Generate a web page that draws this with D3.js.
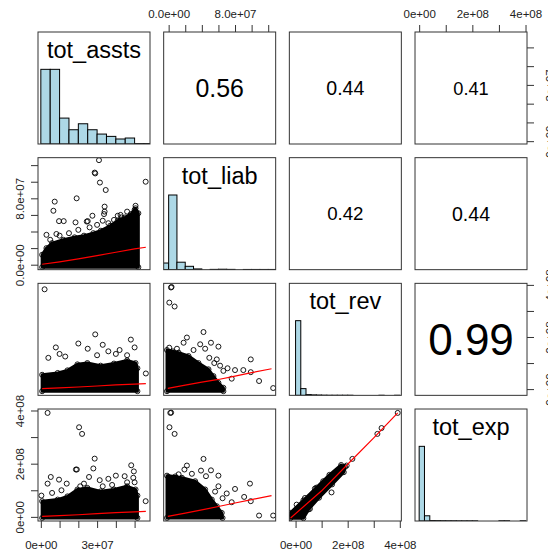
<!DOCTYPE html>
<html><head><meta charset="utf-8">
<script src="https://cdn.jsdelivr.net/npm/d3@7"></script>
<style>
html,body{margin:0;padding:0;background:#fff;}
svg{display:block;font-family:"Liberation Sans",Arial,Helvetica,sans-serif;}
</style></head>
<body>
<svg id="chart" width="548" height="552"></svg>
<script>
// ---------------- DATA ----------------
const variables = ["tot_assts", "tot_liab", "tot_rev", "tot_exp"];
const varMin = [0.07e7, -0.1e7, -0.08e8, 0];
const varMax = [5.6e7, 1.24e8, 3.9e8, 3.9e8];

// correlations (upper panels)
const corRow = [0, 0, 0, 1, 1, 2];
const corCol = [1, 2, 3, 2, 3, 3];
const corValue = [0.56, 0.44, 0.41, 0.42, 0.44, 0.99];

// histograms (density scaled to max = 1)
const histAsstsBreaks = [0, 0.5e7, 1e7, 1.5e7, 2e7, 2.5e7, 3e7, 3.5e7, 4e7, 4.5e7, 5e7, 5.5e7, 6e7];
const histAsstsDensity = [1, 1, 0.347, 0.191, 0.271, 0.191, 0.133, 0.102, 0.067, 0.08, 0.005, 0.005];
const histLiabBreaks = [-1e7, 0, 1e7, 2e7, 3e7, 4e7, 5e7, 6e7, 7e7, 8e7, 9e7, 10e7, 11e7, 12e7, 13e7];
const histLiabDensity = [0.089, 1, 0.10, 0.045, 0.01, 0, 0.004, 0.006, 0.004, 0, 0.003, 0.003, 0.003, 0.003];
const histRevBreaks = [0, 2e7, 4e7, 6e7, 8e7, 10e7, 12e7, 14e7, 16e7, 18e7, 20e7, 22e7, 24e7, 26e7, 28e7, 30e7, 32e7, 34e7, 36e7, 38e7, 40e7];
const histRevDensity = [1, 0.09, 0.01, 0.006, 0.004, 0.002, 0.001, 0.001, 0.001, 0.001, 0.001, 0, 0, 0, 0, 0, 0.001, 0, 0, 0.001];
const histExpBreaks = [0, 2e7, 4e7, 6e7, 8e7, 10e7, 12e7, 14e7, 16e7, 18e7, 20e7, 22e7, 24e7, 26e7, 28e7, 30e7, 32e7, 34e7, 36e7, 38e7, 40e7];
const histExpDensity = [1, 0.07, 0.006, 0.005, 0.004, 0.003, 0.003, 0.002, 0.002, 0.002, 0.002, 0, 0, 0, 0, 0.003, 0.003, 0, 0, 0.003];

// scatter panels: points in data units
const s21Points = [[3.1e7,12.6e7],[2.87e7,11.1e7],[2.9e7,11.0e7],[3.15e7,9.9e7],[3.46e7,9.0e7],[5.59e7,10.0e7],[0.74e7,7.6e7],[1.91e7,8.0e7],[0.67e7,6.5e7],[3.4e7,7.0e7],[0.97e7,5.25e7],[1.22e7,5.25e7],[1.85e7,5.1e7],[2.45e7,5.2e7],[2.5e7,5.25e7],[2.75e7,5.9e7],[3.37e7,6.1e7],[3.4e7,6.4e7],[0.3e7,3.6e7],[0.83e7,3.7e7],[4.1e7,5.9e7],[4.25e7,6.0e7],[5.0e7,6.6e7],[5.05e7,7.1e7],[5.0e7,6.0e7],[3.3e7,5.3e7],[3.6e7,5.0e7],[3.9e7,5.4e7],[4.6e7,6.4e7],[2.0e7,4.2e7],[1.5e7,3.8e7],[1.0e7,3.5e7],[0.5e7,3.0e7],[2.6e7,4.5e7],[3.0e7,4.8e7],[4.3e7,5.7e7]];
const s21Cloud = [[0.07e7,-0.3e7],[0.07e7,1.2e7],[0.3e7,2.0e7],[0.6e7,2.6e7],[1.2e7,3.0e7],[1.8e7,3.3e7],[2.3e7,3.5e7],[2.8e7,3.8e7],[3.2e7,4.1e7],[3.7e7,4.7e7],[4.1e7,5.3e7],[4.5e7,5.7e7],[4.8e7,6.1e7],[5.05e7,6.8e7],[5.2e7,6.2e7],[5.2e7,-0.3e7]];
const s21Smooth = [[0.07e7,0.05e7],[1e7,0.35e7],[2e7,0.7e7],[3e7,1.1e7],[4e7,1.5e7],[5e7,1.9e7],[5.6e7,2.1e7]];

const s31Points = [[0.2e7,3.83e8],[0.8e7,1.6e8],[1.3e7,1.25e8],[2.0e7,1.75e8],[2.5e7,1.55e8],[3.3e7,1.7e8],[3.6e7,1.45e8],[4.2e7,1.5e8],[4.8e7,1.9e8],[5.0e7,1.6e8],[5.6e7,0.6e8],[2.9e7,2.1e8],[0.4e7,1.2e8],[1.0e7,1.35e8],[3.0e7,1.3e8],[4.0e7,1.35e8],[4.6e7,1.3e8]];
const s31Cloud = [[0.07e7,-0.08e8],[0.07e7,0.55e8],[0.9e7,0.62e8],[1.42e7,0.72e8],[1.95e7,0.95e8],[2.48e7,1.0e8],[3.19e7,0.9e8],[3.9e7,0.98e8],[4.6e7,1.1e8],[5.05e7,1.0e8],[5.15e7,0.8e8],[5.15e7,-0.08e8]];
const s31Smooth = [[0.07e7,0.02e8],[1e7,0.05e8],[2e7,0.08e8],[3e7,0.12e8],[4e7,0.16e8],[5e7,0.19e8],[5.6e7,0.21e8]];

const s32Points = [[0.28e7,3.9e8],[0.35e7,3.92e8],[0.08e7,3.32e8],[0.72e7,3.17e8],[4.2e7,2.19e8],[2.2e7,1.98e8],[1.8e7,1.78e8],[3.8e7,1.72e8],[5.1e7,1.78e8],[4.4e7,1.55e8],[6.0e7,1.63e8],[0.07e7,1.59e8],[9.9e7,1.14e8],[7.1e7,0.8e8],[8.0e7,0.73e8],[9.0e7,0.73e8],[9.9e7,0.65e8],[7.6e7,0.4e8],[10.9e7,0.31e8],[12.6e7,0.04e8],[5.8e7,1.14e8],[6.2e7,0.9e8],[6.6e7,0.7e8],[3.0e7,1.5e8],[1.0e7,1.55e8],[4.9e7,1.2e8],[5.5e7,1.0e8]];
const s32Cloud = [[-0.2e7,1.5e8],[0.5e7,1.45e8],[1.2e7,1.4e8],[2.4e7,1.27e8],[3.6e7,1.0e8],[4.8e7,0.76e8],[5.4e7,0.5e8],[6.0e7,0.24e8],[6.6e7,0.05e8],[6.6e7,-0.08e8],[-0.2e7,-0.08e8]];
const s32Smooth = [[-0.1e7,0.03e8],[2e7,0.15e8],[4e7,0.27e8],[6e7,0.37e8],[8e7,0.5e8],[10e7,0.63e8],[12.4e7,0.78e8]];

const s41Points = [[0.36e7,3.91e8],[2.04e7,3.37e8],[2.2e7,3.12e8],[2.87e7,2.19e8],[1.87e7,1.78e8],[1.92e7,1.78e8],[2.8e7,1.82e8],[4.82e7,1.94e8],[4.96e7,1.71e8],[0.53e7,1.5e8],[0.36e7,1.25e8],[0.97e7,1.4e8],[1.38e7,1.25e8],[2.57e7,1.5e8],[3.14e7,1.38e8],[3.6e7,1.43e8],[4.0e7,1.55e8],[4.47e7,1.53e8],[4.93e7,1.47e8],[5.59e7,0.59e8],[0.03e7,0.8e8],[2.1e7,1.15e8],[2.3e7,1.25e8],[3.3e7,1.15e8],[4.6e7,1.3e8],[5.0e7,1.3e8],[1.1e7,1.0e8],[0.6e7,0.9e8],[3.8e7,1.2e8]];
const s41Cloud = [[0.07e7,-0.04e8],[0.07e7,0.59e8],[0.9e7,0.65e8],[1.42e7,0.77e8],[1.95e7,1.03e8],[2.48e7,1.09e8],[3.19e7,0.96e8],[3.9e7,1.03e8],[4.6e7,1.15e8],[5.05e7,1.03e8],[5.15e7,0.8e8],[5.15e7,-0.04e8]];
const s41Smooth = [[0.07e7,0.02e8],[1e7,0.05e8],[2e7,0.08e8],[3e7,0.12e8],[4e7,0.16e8],[5e7,0.19e8],[5.6e7,0.21e8]];

const s42Points = [[0.2e7,3.91e8],[0.3e7,3.92e8],[0.1e7,3.37e8],[0.72e7,3.12e8],[4.2e7,2.18e8],[2.2e7,1.93e8],[1.9e7,1.78e8],[3.9e7,1.74e8],[5.1e7,1.75e8],[6.0e7,1.55e8],[4.5e7,1.53e8],[0,1.5e8],[9.8e7,1.25e8],[8.0e7,1.05e8],[7.0e7,0.88e8],[9.1e7,0.75e8],[7.6e7,0.55e8],[9.9e7,0.59e8],[10.9e7,0.05e8],[12.6e7,0.05e8],[6.0e7,1.15e8],[5.6e7,0.95e8],[6.5e7,0.7e8],[2.8e7,1.62e8],[1.2e7,1.6e8]];
const s42Cloud = [[-0.2e7,1.55e8],[0.8e7,1.52e8],[1.6e7,1.47e8],[3.2e7,1.34e8],[4.4e7,1.03e8],[5.2e7,0.65e8],[5.8e7,0.4e8],[6.4e7,0.15e8],[6.5e7,-0.04e8],[-0.2e7,-0.04e8]];
const s42Smooth = [[-0.1e7,0.02e8],[2e7,0.14e8],[4e7,0.26e8],[6e7,0.39e8],[8e7,0.52e8],[10e7,0.65e8],[12.4e7,0.8e8]];

const s43Points = [[3.92e8,3.91e8],[3.14e8,3.12e8],[3.3e8,3.34e8],[2.18e8,2.18e8],[1.96e8,1.93e8],[1.74e8,1.78e8],[1.38e8,0.92e8],[1.06e8,1.34e8],[0.74e8,1.06e8],[0.36e8,0.71e8],[0.04e8,0.46e8],[1.2e8,1.22e8],[1.5e8,1.5e8],[1.65e8,1.7e8],[0.9e8,0.88e8],[0.55e8,0.3e8]];
const s43Cloud = [[-0.2e8,-0.05e8],[-0.2e8,0.15e8],[0.3e8,0.62e8],[0.8e8,1.1e8],[1.3e8,1.58e8],[1.75e8,1.95e8],[1.9e8,1.88e8],[1.85e8,1.68e8],[1.4e8,1.22e8],[0.9e8,0.72e8],[0.5e8,0.28e8],[0.3e8,-0.05e8]];
const s43Smooth = [[-0.19e8,-0.04e8],[1e8,0.98e8],[2e8,1.98e8],[3e8,2.97e8],[3.92e8,3.91e8]];

// axis ticks & labels
const ticksAssts = [0, 1e7, 2e7, 3e7, 4e7, 5e7];
const labelsAssts = [0, 3e7];
const ticksLiab = [0, 2e7, 4e7, 6e7, 8e7, 10e7, 12e7];
const labelsLiab = [0, 8e7];
const ticksRev = [0, 1e8, 2e8, 3e8, 4e8];
const labelsRev = [0, 2e8, 4e8];
const ticksExp = [0, 1e8, 2e8, 3e8, 4e8];
const labelsExp = [0, 2e8, 4e8];

// ---------------- BUILD ----------------
const hists = [
  {b: histAsstsBreaks, d: histAsstsDensity},
  {b: histLiabBreaks, d: histLiabDensity},
  {b: histRevBreaks, d: histRevDensity},
  {b: histExpBreaks, d: histExpDensity}
];
const scatters = [
  {r: 1, c: 0, pts: s21Points, cloud: s21Cloud, smooth: s21Smooth},
  {r: 2, c: 0, pts: s31Points, cloud: s31Cloud, smooth: s31Smooth},
  {r: 2, c: 1, pts: s32Points, cloud: s32Cloud, smooth: s32Smooth},
  {r: 3, c: 0, pts: s41Points, cloud: s41Cloud, smooth: s41Smooth},
  {r: 3, c: 1, pts: s42Points, cloud: s42Cloud, smooth: s42Smooth},
  {r: 3, c: 2, pts: s43Points, cloud: s43Cloud, smooth: s43Smooth}
];
const axisTicks = [ticksAssts, ticksLiab, ticksRev, ticksExp];
const axisLabels = [labelsAssts, labelsLiab, labelsRev, labelsExp];
const sci0 = v => v === 0 ? "0e+00" : d3.format(".0e")(v).replace("e+", "e+0");
const sci1 = v => d3.format(".1e")(v).replace(/e([+-])(\d)$/, "e$10$2");
const fmt = [sci0, sci1, sci0, sci0];

const svg = d3.select("#chart");
const size = 112, step = 125.67, left0 = 38, top0 = 32;
const px = i => left0 + i * step;
const py = i => top0 + i * step;

const xs = variables.map((v, i) => {
  const r = varMax[i] - varMin[i];
  return d3.scaleLinear().domain([varMin[i] - 0.04 * r, varMax[i] + 0.04 * r]).range([px(i), px(i) + size]);
});
const ys = variables.map((v, i) => {
  const r = varMax[i] - varMin[i];
  return d3.scaleLinear().domain([varMin[i] - 0.04 * r, varMax[i] + 0.04 * r]).range([py(i) + size, py(i)]);
});

const defs = svg.append("defs");
for (let r = 0; r < 4; r++) for (let c = 0; c < 4; c++) {
  defs.append("clipPath").attr("id", `clip${r}${c}`)
    .append("rect").attr("x", px(c)).attr("y", py(r)).attr("width", size).attr("height", size);
}

// diagonal: histograms + names
variables.forEach((name, i) => {
  const g = svg.append("g").attr("clip-path", `url(#clip${i}${i})`);
  const hy = d3.scaleLinear().domain([0, 1.5]).range([py(i) + size, py(i)]);
  const h = hists[i];
  g.selectAll("rect").data(h.d).join("rect")
    .attr("x", (d, k) => xs[i](h.b[k]))
    .attr("width", (d, k) => xs[i](h.b[k + 1]) - xs[i](h.b[k]))
    .attr("y", d => hy(d))
    .attr("height", d => hy(0) - hy(d))
    .attr("fill", "#ADD8E6").attr("stroke", "#000").attr("stroke-width", 1);
  svg.append("text").attr("x", px(i) + size / 2).attr("y", py(i) + 26)
    .attr("text-anchor", "middle").attr("font-size", 23.5).attr("fill", "#000").text(name);
});

// upper: correlations
const corSize = d3.scaleLinear().domain([0, 1]).range([0, 44.5]);
corValue.forEach((v, k) => {
  const fs = corSize(v);
  svg.append("text").attr("x", px(corCol[k]) + size / 2).attr("y", py(corRow[k]) + size / 2 + 0.36 * fs)
    .attr("text-anchor", "middle").attr("font-size", fs).attr("fill", "#000").text(d3.format(".2f")(v));
});

// lower: scatter
const ptR = 2.5;
scatters.forEach(s => {
  const x = xs[s.c], y = ys[s.r];
  const g = svg.append("g").attr("clip-path", `url(#clip${s.r}${s.c})`);
  g.append("path").datum(s.cloud)
    .attr("d", d3.line().x(d => x(d[0])).y(d => y(d[1])).curve(d3.curveLinearClosed))
    .attr("fill", "#000").attr("stroke", "#000").attr("stroke-width", 3).attr("stroke-linejoin", "round");
  g.selectAll("circle.edge").data(s.cloud).join("circle").attr("class", "edge")
    .attr("cx", d => x(d[0])).attr("cy", d => y(d[1])).attr("r", ptR)
    .attr("fill", "none").attr("stroke", "#000").attr("stroke-width", 0.9);
  g.selectAll("circle.pt").data(s.pts).join("circle").attr("class", "pt")
    .attr("cx", d => x(d[0])).attr("cy", d => y(d[1])).attr("r", ptR)
    .attr("fill", "none").attr("stroke", "#000").attr("stroke-width", 0.9);
  g.append("path").datum(s.smooth)
    .attr("d", d3.line().x(d => x(d[0])).y(d => y(d[1])))
    .attr("fill", "none").attr("stroke", "#FF0000").attr("stroke-width", 1.2);
});

// panel frames
for (let r = 0; r < 4; r++) for (let c = 0; c < 4; c++) {
  svg.append("rect").attr("x", px(c)).attr("y", py(r)).attr("width", size).attr("height", size)
    .attr("fill", "none").attr("stroke", "#333").attr("stroke-width", 1);
}

// axes
const labelFs = 11.5, tickLen = 7;
function drawAxis(i, side) {
  let axis, tr;
  const ticks = axisTicks[i], labels = axisLabels[i];
  const lab = v => labels.includes(v) ? fmt[i](v) : "";
  if (side === "top") { axis = d3.axisTop(xs[i]); tr = `translate(0,${py(0)})`; }
  if (side === "bottom") { axis = d3.axisBottom(xs[i]); tr = `translate(0,${py(3) + size})`; }
  if (side === "left") { axis = d3.axisLeft(ys[i]); tr = `translate(${px(0)},0)`; }
  if (side === "right") { axis = d3.axisRight(ys[i]); tr = `translate(${px(3) + size},0)`; }
  axis.tickValues(ticks).tickFormat(lab).tickSize(tickLen).tickSizeOuter(0);
  const g = svg.append("g").attr("transform", tr).call(axis);
  g.select(".domain").remove();
  g.selectAll("line").attr("stroke", "#333");
  const t = g.selectAll("text").attr("font-size", labelFs).attr("font-family", "Liberation Sans, Arial, sans-serif").attr("fill", "#222").attr("dy", null);
  if (side === "top") t.attr("y", -13.7);
  if (side === "bottom") t.attr("y", 28.3);
  if (side === "left") t.attr("x", 0).attr("y", -14).attr("text-anchor", "middle").attr("transform", "rotate(-90)");
  if (side === "right") t.attr("x", 0).attr("y", 27).attr("text-anchor", "middle").attr("transform", "rotate(-90)");
}
drawAxis(1, "top"); drawAxis(3, "top");
drawAxis(0, "bottom"); drawAxis(2, "bottom");
drawAxis(1, "left"); drawAxis(3, "left");
drawAxis(0, "right"); drawAxis(2, "right");
</script>
</body></html>
